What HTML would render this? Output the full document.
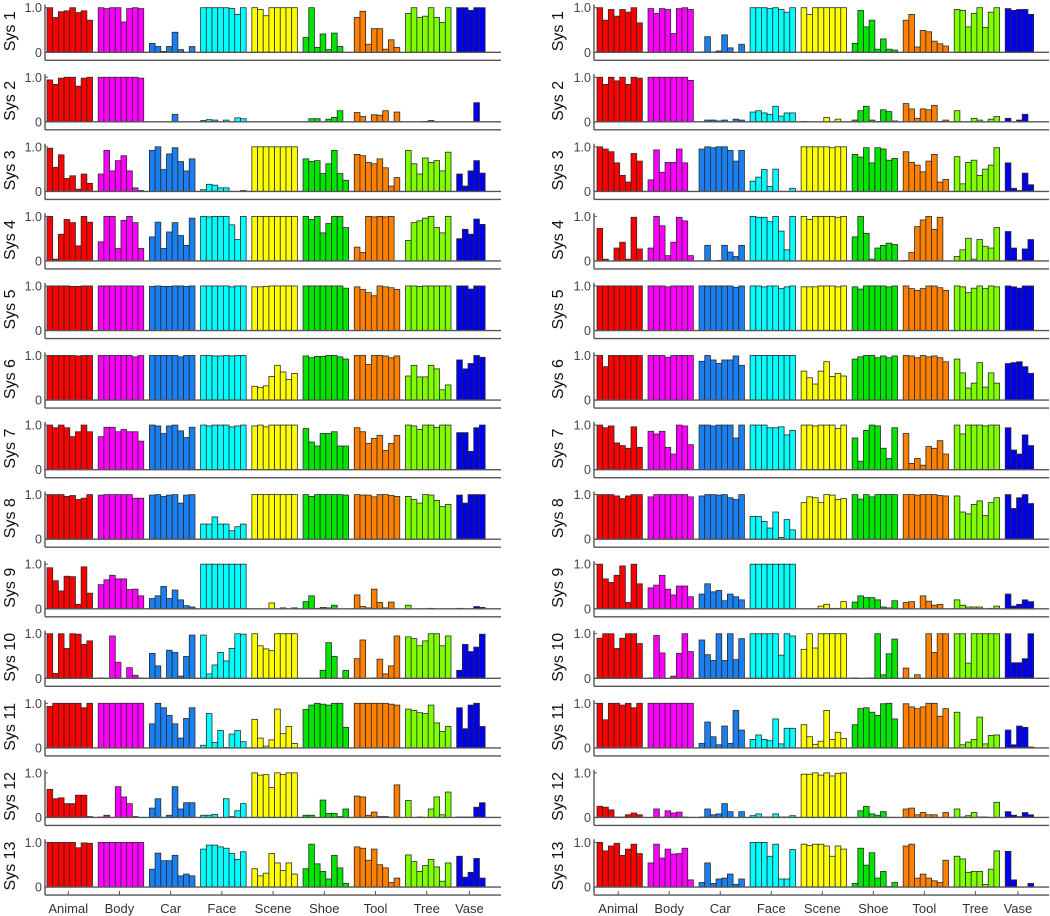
<!DOCTYPE html>
<html><head><meta charset="utf-8"><style>
html,body{margin:0;padding:0;background:#fff;}
svg{display:block;font-family:"Liberation Sans",sans-serif;}
</style></head><body>
<svg id="chart" width="1050" height="916" viewBox="0 0 1050 916"></svg>
<script>
const categories = ["Animal","Body","Car","Face","Scene","Shoe","Tool","Tree","Vase"];
const groupColors = ["#ff0000","#ff00ff","#1a7ff0","#00ffff","#ffff00","#00e600","#ff8000","#80ff00","#0000ee"];
const yTickLabels = ["0","1.0"];
const leftValues = [
[[1,.78,.91,.93,1,.89,.93,.72],[1,.98,1,1,.68,.98,1,.98],[.2,.13,.02,.13,.45,.06,0,.13],[1,1,1,1,1,.98,.85,1],[1,.96,.82,1,1,1,1,1],[.33,1,.11,.41,.06,.43,.13,0],[.78,.92,.18,.53,.53,.07,.28,.11],[.87,1,.78,.81,1,.78,.67,1],[1,1,.94,1,1]],
[[.94,.84,.98,1,1,.8,.98,1],[1,1,1,1,1,1,1,.98],[0,0,0,0,.17,0,0,0],[.03,.05,.04,0,.04,0,.09,.07],[0,0,0,0,0,0,0,0],[0,.07,.07,0,.06,.1,.25,0],[.21,.12,0,.16,.15,.25,0,.22],[0,0,0,.01,.03,0,0,0],[0,0,0,.43,0]],
[[.97,.54,.82,.29,.35,.05,.39,.18],[.39,.92,.46,.69,.8,.46,.08,.02],[.92,1,.49,.84,.98,.67,.46,.73],[.04,.16,.14,.08,.08,0,0,.02],[1,1,1,1,1,1,1,1],[.73,.67,.69,.4,.62,.92,.4,.25],[.83,.8,.65,.62,.73,.53,.12,.31],[.92,.62,.39,.75,.65,.69,.46,.88],[.39,.12,.46,.69,.41]],
[[1,.04,.6,.93,.86,.34,1,.87],[.43,1,1,.28,.91,1,.86,.28],[.54,.87,.28,.65,.86,.57,.35,.96],[1,.99,1,1,1,.81,.48,1],[1,1,1,1,1,1,1,1],[1,.93,1,.63,.84,1,1,.75],[.31,.19,1,.99,1,.99,1,0],[.46,.86,.9,.96,1,.75,.63,1],[.5,.71,.6,.94,.82]],
[[1,1,1,1,.99,.99,1,1],[1,1,1,1,1,1,1,1],[.99,1,.99,.99,1,1,.99,1],[1,1,1,1,1,.98,1,1],[.98,.98,.99,1,1,1,1,1],[1,1,1,1,1,1,1,.95],[.98,.92,.85,.78,1,.98,.96,.92],[1,1,.99,1,1,1,1,1],[1,1,.93,1,1]],
[[1,1,1,1,1,.99,1,1],[1,1,1,1,1,1,.97,1],[1,1,1,1,1,.97,1,1],[1,1,.99,.99,1,.99,1,1],[.31,.28,.32,.53,.78,.63,.46,.6],[.99,.95,.98,.98,1,1,.97,.92],[1,1,.8,1,1,.99,.95,.99],[.54,.78,.52,.52,.78,.7,.23,.34],[.9,.7,.82,1,.96]],
[[1,.94,1,.94,.74,.85,1,.85],[.74,.95,.95,.85,.9,.85,.85,.64],[1,.98,.81,.98,1,.87,.72,.95],[1,.98,1,1,1,.96,.98,1],[.98,1,.96,1,1,1,1,1],[.92,.62,.53,.81,.81,.85,.53,.53],[.94,.85,.59,.7,.77,.43,.59,.77],[1,.98,.9,1,1,.95,1,1],[.83,.83,.41,.94,1]],
[[1,1,1,.96,.98,.89,.92,1],[.99,1,1,1,1,1,.92,.92],[.99,1,.96,.99,1,.81,.99,1],[.34,.34,.5,.34,.34,.19,.28,.34],[1,1,1,1,1,1,1,1],[1,.96,1,1,1,1,1,.99],[1,.99,.99,.95,1,1,.98,.96],[.96,.89,.81,1,.99,.87,.73,.78],[.99,.81,1,1,1]],
[[.92,.63,.4,.73,.72,.1,.94,.35],[.54,.65,.75,.67,.67,.43,.44,.29],[.23,.29,.5,.23,.42,.2,.07,.04],[1,1,1,1,1,1,1,1],[0,0,0,.13,0,.02,0,.02],[.16,.29,.01,.03,.02,.08,0,0],[.31,.05,.02,.44,.14,.02,.15,0],[.08,0,0,0,.01,0,0,0],[.01,0,0,.05,.03]],
[[1,.11,1,.67,1,.99,.76,.84],[.01,0,.95,.36,0,.24,.07,.01],[.56,.28,0,.63,.58,.05,.49,.97],[.97,.1,.3,.58,.39,.67,1,.99],[1,.73,.66,.62,1,1,1,1],[0,0,0,.18,.8,.49,0,.18],[.44,.86,0,.01,.43,.1,.28,.95],[.93,.89,.73,.84,1,1,.73,.95],[.18,.76,.6,.7,.99]],
[[.93,1,1,1,1,1,.9,1],[1,1,1,1,1,1,1,1],[.54,1,.9,.73,.54,.22,.66,.9],[.06,.77,.12,.39,.01,.31,.39,.14],[.64,.22,.04,.18,.87,.32,.48,.1],[.86,.96,1,.98,.96,1,1,.46],[1,1,1,1,1,1,.98,.96],[.87,.84,.79,.77,.96,.56,.37,.48],[.9,.43,.96,1,.48]],
[[.63,.42,.44,.31,.31,.5,.5,.02],[.01,.05,0,.69,.46,.31,.02,0],[.21,.42,0,.05,.69,.19,.33,.33],[.05,.05,.07,0,.42,.02,.15,.31],[1,.95,.96,.67,1,.96,1,1],[.05,.05,0,.39,.09,.09,.02,.19],[.48,.46,.05,.12,.02,.02,0,.73],[.38,0,.01,0,.19,.46,.06,.57],[.01,.01,.01,.23,.33]],
[[1,1,1,1,1,.88,.99,.98],[1,1,1,1,1,1,1,1],[.4,.76,.59,.59,.71,.25,.29,.25],[.85,.94,.94,.9,.87,.75,.62,.79],[.41,.25,.31,.75,.54,.37,.54,.29],[.41,.96,.52,.35,.18,.71,.43,.08],[.9,.87,.6,.85,.5,.43,.1,.2],[.72,.57,.35,.48,.62,.45,.13,.54],[.69,.22,.33,.64,.2]]
];
const rightValues = [
[[1,.72,.96,.81,.96,.9,1,.66],[.98,.87,.98,.96,.42,.98,1,.96],[.01,.35,.01,.03,.39,.1,0,.18],[1,1,1,.98,1,.96,.9,1],[1,.85,1,1,1,1,1,1],[.2,.94,.57,.72,.07,.3,.07,.05],[.72,.85,.12,.49,.46,.25,.19,.14],[.96,.94,.57,.87,1,.56,.9,1],[.98,.94,.96,.96,.85]],
[[1,.84,1,.92,1,.84,1,.98],[1,1,1,1,1,1,1,.93],[0,.04,.04,.02,.04,0,.06,.04],[.22,.25,.2,.17,.35,.13,.2,.2],[.01,0,0,0,.1,0,.06,0],[.04,.25,.35,.04,.01,.27,.23,.02],[.41,.29,.08,.29,.27,.37,.01,.04],[.25,0,0,.08,.04,0,.06,.12],[.08,0,.04,.17,0]],
[[1,.95,.89,.64,.36,.21,.85,.68],[.26,.93,.43,.65,.65,.95,.64,0],[.95,1,.98,1,1,.92,.68,.92],[.23,.32,.49,.11,.5,0,0,.07],[1,1,1,1,1,.98,1,1],[.83,.77,.98,.64,.98,.95,.7,.74],[.89,.65,.59,.44,.68,.83,.21,.27],[.78,.17,.65,.7,.36,.5,.59,.98],[.64,.07,.02,.41,.15]],
[[.73,.04,0,.29,.42,.04,.98,.27],[.29,1,.79,.12,.42,.98,.9,.12],[0,.35,0,.01,.35,.2,.1,.35],[1,.98,.98,.88,1,.67,.25,1],[1,.93,1,1,1,1,.98,1],[.54,1,.62,.04,.29,.35,.4,.37],[.01,.19,.77,.92,1,.71,.98,0],[.1,.25,.51,.04,.48,.33,.29,.75],[.66,.29,.02,.27,.48]],
[[1,1,1,1,1,1,1,1],[1,1,1,.98,1,1,1,1],[1,1,1,1,1,1,.97,1],[1,1,.98,1,1,.94,.98,1],[.98,.98,.98,1,1,1,.98,1],[.98,.93,1,1,1,1,.98,1],[1,.94,.9,.94,1,1,.96,.9],[1,.98,.85,.95,1,.94,1,.98],[1,.98,.95,1,1]],
[[1,.75,1,1,1,1,1,1],[1,1,1,.96,1,1,1,1],[.87,1,.9,.82,.9,.9,.99,.78],[1,1,1,1,1,1,1,1],[.65,.5,.36,.65,.86,.53,.6,.54],[.92,.97,1,1,.95,.99,.95,.99],[1,.99,.95,1,.97,.99,.95,.86],[.92,.61,.27,.38,.84,.29,.61,.38],[.82,.84,.86,.75,.6]],
[[1,.94,.98,.6,.54,.48,.96,.5],[.86,.8,.86,.5,.35,1,.98,.56],[1,1,.98,1,1,1,.71,1],[1,1,1,.94,.94,.96,.78,.88],[1,1,.98,1,1,1,.92,1],[.71,.19,.88,1,.98,.48,.25,.94],[.81,.14,.25,.1,.52,.48,.65,.35],[1,.8,1,1,1,.98,1,1],[.94,.44,.35,.78,.54]],
[[1,1,1,.97,.91,.97,1,1],[.95,1,1,1,1,1,1,.95],[.97,1,1,.99,1,.93,.89,1],[.51,.51,.4,.25,.61,.04,.44,.21],[.82,.95,.93,.82,1,.99,.89,.91],[1,.9,1,.95,1,1,1,1],[1,1,.99,1,1,1,.98,.97],[.97,.61,.57,.78,.86,.53,.82,.93],[1,.69,.93,1,.8]],
[[1,.67,.59,.75,.96,.14,1,.56],[.47,.53,.75,.44,.31,.51,.51,.27],[.33,.56,.38,.41,.18,.33,.27,.2],[1,1,1,1,1,1,1,1],[0,0,0,.06,.1,.01,.01,.16],[.15,.29,.25,.25,.2,.04,.02,.18],[.14,.16,0,.29,.17,.08,.1,0],[.2,.08,.04,.04,.04,0,.01,.06],[.33,.06,.1,.2,.16]],
[[.9,1,1,.67,.9,1,1,.78],[.01,.96,.57,0,.05,.56,1,.6],[.86,.53,.4,1,.4,1,.42,.89],[1,1,1,1,1,.52,1,.95],[.65,1,.68,1,1,1,1,1],[.01,0,0,.01,1,.08,.55,.88],[.23,0,.08,0,1,.58,1,1],[1,1,.34,1,1,1,1,1],[1,.35,.35,.44,1]],
[[1,.63,1,1,.96,1,.9,1],[1,1,1,1,1,1,1,1],[.1,.58,.25,.07,.49,.1,.84,.4],[.19,.29,.19,.16,.65,.09,.44,.44],[.52,.25,.08,.15,.84,.19,.35,.21],[.52,.88,.9,.8,.73,.99,1,.65],[.99,.92,.88,.92,1,1,.71,.88],[.8,.07,.13,.19,.69,.09,.28,.29],[.4,.07,.49,.46,.02]],
[[.25,.23,.17,.01,.01,.06,.1,.06],[0,.19,.01,.15,.1,.12,.01,0],[.01,.19,.06,.08,.31,.13,0,.13],[.04,.08,.01,.01,.08,.01,.01,.04],[.97,.97,1,.95,1,.93,.99,1],[0,.15,.25,.08,.05,.13,0,0],[.19,.21,.06,.11,.06,.06,0,.11],[.19,.01,.04,.11,.01,.01,0,.34],[.13,.05,.02,.11,.06]],
[[1,.81,.92,.98,.71,.85,.96,.75],[.54,.96,.65,.85,.74,.75,.87,.16],[.1,.54,.08,.18,.2,.29,.06,.18],[1,1,1,.69,.96,.18,.18,.84],[.96,.93,.96,.96,.92,.69,.92,.85],[.08,.87,.49,.77,.2,.35,.01,.1],[.92,.96,.2,.29,.2,.14,.1,.6],[.69,.63,.33,.35,.35,.06,.4,.81],[.8,.16,0,0,.08]]
];

const NS = "http://www.w3.org/2000/svg";
const svg = document.getElementById("chart");
function mk(tag, attrs, parent) {
  const e = document.createElementNS(NS, tag);
  for (const k in attrs) e.setAttribute(k, attrs[k]);
  parent.appendChild(e);
  return e;
}
const cols = [
  {vals: leftValues, yAxisX: 45, barStart: 47, unit: 5.69, right: 501, labelX: 9, side: "left"},
  {vals: rightValues, yAxisX: 594, barStart: 597, unit: 5.67, right: 1049, labelX: 557, side: "right"}
];
const zero0 = 52.3, rowStep = 69.56, yScale = 44.6;
cols.forEach(col => {
  const xPos = p => col.barStart + p * col.unit;
  col.vals.forEach((panel, r) => {
    const zero = zero0 + r * rowStep;
    const yPos = v => zero - v * yScale;
    const g = mk("g", {}, svg);
    
    
    let p = 0;
    panel.forEach((grp, gi) => {
      grp.forEach((v, bi) => {
        const h = Math.max(0, v * yScale);
        const rect = mk("rect", {x: xPos(p + bi), y: yPos(v), width: col.unit, height: h,
          fill: groupColors[gi], stroke: "#2a2a2a", "stroke-width": 0.8}, g);
        
        
      });
      p += 9;
    });
    // axes
    const yAxis = mk("line", {x1: col.yAxisX, x2: col.yAxisX, y1: yPos(1.07), y2: zero + 8, stroke: "#555", "stroke-width": 1.4}, g);
    
    
    const zl = mk("line", {x1: col.yAxisX, x2: col.right, y1: zero, y2: zero, stroke: "#555", "stroke-width": 1.4}, g);
    
    
    const bl = mk("line", {x1: col.yAxisX, x2: col.right, y1: zero + 8, y2: zero + 8, stroke: "#555", "stroke-width": 1.4}, g);
    
    
    [0, 1].forEach(t => {
      const tk = mk("line", {x1: col.yAxisX, x2: col.yAxisX + 3, y1: yPos(t), y2: yPos(t), stroke: "#555", "stroke-width": 1}, g);
      
      
      const tl = mk("text", {x: col.yAxisX - 3, y: yPos(t) + 4.5, "text-anchor": "end", "font-size": 12.5, fill: "#444"}, g);
      tl.textContent = yTickLabels[t];
      
      
    });
    const lbl = mk("text", {x: 0, y: 0, transform: "translate(" + (col.labelX + 6) + "," + (zero - 21) + ") rotate(-90)",
      "text-anchor": "middle", "font-size": 16, fill: "#111"}, g);
    lbl.textContent = "Sys " + (r + 1);
    
    
    if (r === col.vals.length - 1) {
      let q = 0;
      categories.forEach((c, gi) => {
        const n = panel[gi].length;
        const cx = xPos(q + n / 2) - 1.5;
        const tk = mk("line", {x1: cx, x2: cx, y1: zero + 8, y2: zero + 4, stroke: "#555", "stroke-width": 1}, g);
        
        
        const tl = mk("text", {x: cx, y: zero + 26, "text-anchor": "middle", "font-size": 13, fill: "#333"}, g);
        tl.textContent = c;
        
        
        q += 9;
      });
    }
  });
});
</script>
</body></html>
